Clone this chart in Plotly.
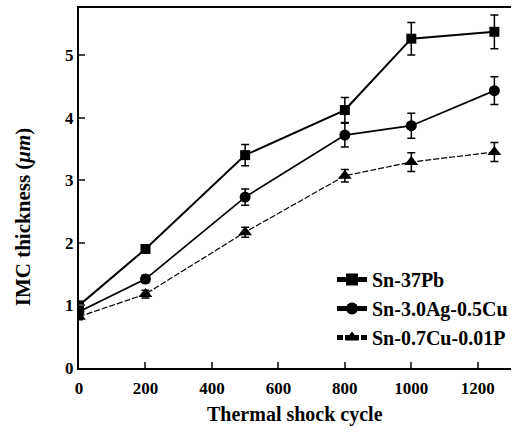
import plotly.graph_objects as go

cycles = [0, 200, 500, 800, 1000, 1250]
snpb = [1.0, 1.9, 3.4, 4.12, 5.26, 5.37]
snpb_err = [0.06, 0.06, 0.17, 0.2, 0.26, 0.27]
sac = [0.9, 1.42, 2.73, 3.72, 3.87, 4.43]
sac_err = [0.06, 0.06, 0.13, 0.19, 0.2, 0.22]
sncu = [0.82, 1.18, 2.17, 3.07, 3.29, 3.45]
sncu_err = [0.05, 0.06, 0.08, 0.1, 0.15, 0.15]
names = ["Sn-37Pb", "Sn-3.0Ag-0.5Cu", "Sn-0.7Cu-0.01P"]
x_ticks = [0, 200, 400, 600, 800, 1000, 1200]
y_ticks = [0, 1, 2, 3, 4, 5]

FONT = "Liberation Serif"

series = [
    (snpb, snpb_err, names[0], "square", 10, dict(color="black", width=2)),
    (sac, sac_err, names[1], "circle", 11, dict(color="black", width=1.7)),
    (sncu, sncu_err, names[2], "triangle-up", 12, dict(color="black", width=1.2, dash="6px,2px")),
]

fig = go.Figure()
for vals, err, name, sym, size, line in series:
    fig.add_trace(go.Scatter(
        x=cycles, y=vals, name=name, mode="lines+markers",
        line=line,
        marker=dict(symbol=sym, size=size, color="black"),
        error_y=dict(type="data", array=err, visible=True, color="black", thickness=1.5, width=4),
    ))

fig.update_layout(
    width=513, height=432,
    margin=dict(l=79, r=0, t=8, b=64),
    paper_bgcolor="white", plot_bgcolor="white",
    font=dict(family=FONT, color="black"),
    showlegend=True,
    legend=dict(x=0.586, y=0.30, xanchor="left", yanchor="top",
                font=dict(family=FONT, size=20, color="black", weight="bold"),
                bgcolor="rgba(0,0,0,0)", tracegroupgap=0, itemsizing="constant"),
    xaxis=dict(range=[0, 1300], tickvals=x_ticks, ticks="inside", ticklen=6, tickwidth=1.5,
               showline=True, linecolor="black", linewidth=2, mirror=True, showgrid=False, zeroline=False,
               automargin=False, ticklabelstandoff=4,
               tickfont=dict(family=FONT, size=17, color="black", weight="bold")),
    yaxis=dict(range=[0, 5.75], tickvals=y_ticks, ticks="inside", ticklen=6, tickwidth=1.5,
               showline=True, linecolor="black", linewidth=2, showgrid=False, zeroline=False,
               automargin=False,
               tickfont=dict(family=FONT, size=17, color="black", weight="bold")),
    annotations=[
        dict(text="IMC thickness (<i>μm</i>)", xref="paper", yref="paper",
             x=-0.131, y=0.42, xanchor="center", yanchor="middle", textangle=-90, showarrow=False,
             font=dict(family=FONT, size=21, color="black", weight="bold")),
        dict(text="Thermal shock cycle", xref="paper", yref="paper",
             x=0.5, y=-0.128, xanchor="center", yanchor="middle", showarrow=False,
             font=dict(family=FONT, size=20, color="black", weight="bold")),
    ],
)

fig.write_html("out.html", config={"displayModeBar": False},
               post_script="document.body.style.margin='0';document.body.style.overflow='hidden';")
